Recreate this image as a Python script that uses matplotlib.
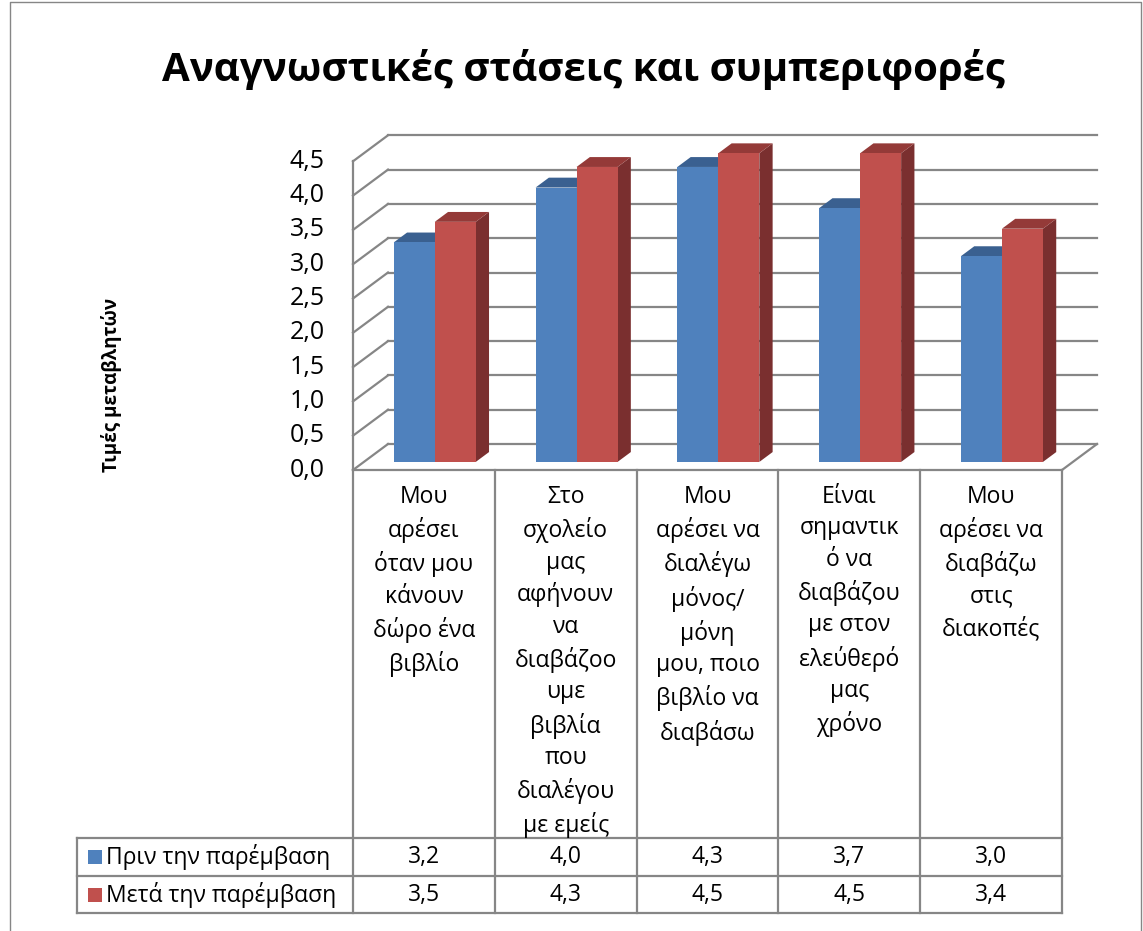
import matplotlib
matplotlib.use('Agg')
import matplotlib.pyplot as plt
from matplotlib.patches import Polygon

plt.rcParams['font.family'] = ['Open Sans', 'DejaVu Sans']

# ---------------- data ----------------
title = "Αναγνωστικές στάσεις και συμπεριφορές"
y_label = "Τιμές μεταβλητών"
categories = [
    "Μου\nαρέσει\nόταν μου\nκάνουν\nδώρο ένα\nβιβλίο",
    "Στο\nσχολείο\nμας\nαφήνουν\nνα\nδιαβάζοο\nυμε\nβιβλία\nπου\nδιαλέγου\nμε εμείς",
    "Μου\nαρέσει να\nδιαλέγω\nμόνος/\nμόνη\nμου, ποιο\nβιβλίο να\nδιαβάσω",
    "Είναι\nσημαντικ\nό να\nδιαβάζου\nμε στον\nελεύθερό\nμας\nχρόνο",
    "Μου\nαρέσει να\nδιαβάζω\nστις\nδιακοπές",
]
series_names = ["Πριν την παρέμβαση", "Μετά την παρέμβαση"]
before = [3.2, 4.0, 4.3, 3.7, 3.0]
after = [3.5, 4.3, 4.5, 4.5, 3.4]
value_labels_before = ["3,2", "4,0", "4,3", "3,7", "3,0"]
value_labels_after = ["3,5", "4,3", "4,5", "4,5", "3,4"]
yticks = [0.0, 0.5, 1.0, 1.5, 2.0, 2.5, 3.0, 3.5, 4.0, 4.5]
ytick_labels = ["0,0", "0,5", "1,0", "1,5", "2,0", "2,5", "3,0", "3,5", "4,0", "4,5"]

front_colors = ["#4F81BD", "#C0504D"]
top_colors = ["#3A6090", "#943A38"]
side_colors = ["#2F4E75", "#7A2F2F"]
grid_color = "#868686"

# ---------------- layout ----------------
W, H = 1143, 931
X0, PXX = 353.0, 141.8    # pixel of category 0 edge, pixels per category
Y0, PXY = 470.0, 68.6     # pixel of value 0 (front plane), pixels per unit
DX = 35.0 / PXX           # depth offset of back wall (categories)
DY = 26.0 / PXY           # depth offset of back wall (value units)
F0, F1 = 0.31, 0.69       # bar front/back depth fraction
BW = 0.289                # bar width (categories)

def px(p):
    return (p - X0) / PXX

def py(p):
    return (Y0 - p) / PXY

fig = plt.figure(figsize=(W / 100, H / 100), dpi=100)
ax = fig.add_axes([0, 0, 1, 1])
ax.set_xlim(px(0), px(W))
ax.set_ylim(py(H), py(0))
ax.axis('off')

n = len(categories)
lw = 1.6

# chart border
ax.plot([px(10), px(10), px(1141), px(1141)], [py(940), py(2), py(2), py(940)],
        color=grid_color, lw=1.0, clip_on=False)

# back wall gridlines and side wall diagonals
for v in yticks:
    ax.plot([DX, n + DX], [v + DY, v + DY], color=grid_color, lw=lw, zorder=1)
    ax.plot([0, DX], [v, v + DY], color=grid_color, lw=lw, zorder=1)
# y axis line (front left edge)
ax.plot([0, 0], [0, yticks[-1]], color=grid_color, lw=lw, zorder=1)
# floor edges
ax.plot([0, n], [0, 0], color=grid_color, lw=lw, zorder=1)
ax.plot([n, n + DX], [0, DY], color=grid_color, lw=lw, zorder=1)

# bars
for i in range(n):
    for s, vals in enumerate([before, after]):
        h = vals[i]
        x0 = i + 0.5 - BW + s * BW + F0 * DX
        y0 = F0 * DY
        ddx = (F1 - F0) * DX
        ddy = (F1 - F0) * DY
        front = Polygon([(x0, y0), (x0 + BW, y0), (x0 + BW, y0 + h), (x0, y0 + h)],
                        closed=True, facecolor=front_colors[s], edgecolor='none', zorder=3)
        top = Polygon([(x0, y0 + h), (x0 + BW, y0 + h), (x0 + BW + ddx, y0 + h + ddy),
                       (x0 + ddx, y0 + h + ddy)],
                      closed=True, facecolor=top_colors[s], edgecolor='none', zorder=3)
        side = Polygon([(x0 + BW, y0), (x0 + BW + ddx, y0 + ddy), (x0 + BW + ddx, y0 + h + ddy),
                        (x0 + BW, y0 + h)],
                       closed=True, facecolor=side_colors[s], edgecolor='none', zorder=3)
        for p in (side, top, front):
            ax.add_patch(p)

# y tick labels
for v, lab in zip(yticks, ytick_labels):
    ax.text(px(325), v, lab, ha='right', va='center', fontsize=18, color='black')

# y axis title
ax.text(px(111), py(385), y_label, rotation=90, ha='center', va='center',
        fontsize=13.5, fontweight='bold')

# title
ax.text(px(583), py(70), title, ha='center', va='center', fontsize=29, fontweight='bold')

# data table
row_top, row_mid, row_bot = 838, 876, 913
tab_left = 77
for i in range(n + 1):
    ax.plot([i, i], [0, py(row_bot)], color=grid_color, lw=lw, clip_on=False)
for r in (row_top, row_mid, row_bot):
    ax.plot([px(tab_left), n], [py(r), py(r)], color=grid_color, lw=lw, clip_on=False)
ax.plot([px(tab_left), px(tab_left)], [py(row_top), py(row_bot)], color=grid_color, lw=lw)

for i, cat in enumerate(categories):
    ax.text(i + 0.5, py(485), cat, ha='center', va='top', fontsize=16.5,
            linespacing=1.41, color='black')

rows_y = [(row_top + row_mid) / 2, (row_mid + row_bot) / 2]
for s, (name, labs) in enumerate(zip(series_names, [value_labels_before, value_labels_after])):
    yc = py(rows_y[s])
    sq = 14
    ax.add_patch(Polygon([(px(88), py(rows_y[s] + sq / 2)), (px(88 + sq), py(rows_y[s] + sq / 2)),
                          (px(88 + sq), py(rows_y[s] - sq / 2)), (px(88), py(rows_y[s] - sq / 2))],
                         closed=True, facecolor=front_colors[s], edgecolor='none'))
    ax.text(px(106), yc, name, ha='left', va='center', fontsize=16.5)
    for i, lab in enumerate(labs):
        ax.text(i + 0.5, yc, lab, ha='center', va='center', fontsize=16.5)

fig.savefig('out.png', dpi=100)
